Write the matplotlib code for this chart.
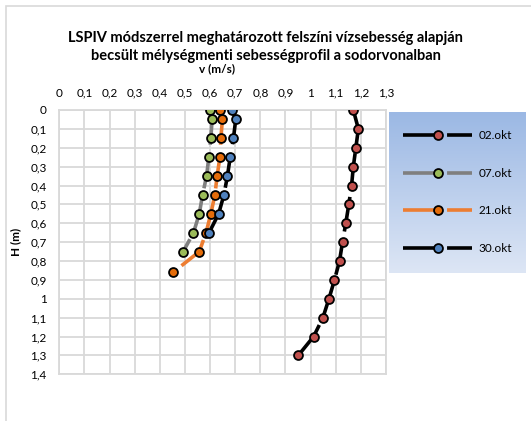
import numpy as np
import matplotlib
matplotlib.use("Agg")
from matplotlib import pyplot as plt
from matplotlib.patches import Rectangle

# depth values (m)
depth_02 = [0, 0.1, 0.2, 0.3, 0.4, 0.5, 0.6, 0.7, 0.8, 0.9, 1.0, 1.1, 1.2, 1.3]
depth_07 = [0, 0.05, 0.15, 0.25, 0.35, 0.45, 0.55, 0.65, 0.75]
depth_21 = [0, 0.05, 0.15, 0.25, 0.35, 0.45, 0.55, 0.65, 0.75, 0.86]
depth_30 = [0, 0.05, 0.15, 0.25, 0.35, 0.45, 0.55, 0.65]

# velocities (m/s)
v_02 = [1.17, 1.19, 1.18, 1.17, 1.163, 1.152, 1.14, 1.127, 1.115, 1.095, 1.073, 1.049, 1.012, 0.951]
v_07 = [0.60, 0.608, 0.603, 0.595, 0.586, 0.570, 0.557, 0.534, 0.493]
v_21 = [0.64, 0.649, 0.643, 0.639, 0.628, 0.619, 0.603, 0.584, 0.557, 0.453]
v_30 = [0.689, 0.702, 0.693, 0.680, 0.669, 0.655, 0.634, 0.596]

labels = ["02.okt", "07.okt", "21.okt", "30.okt"]
x_ticks = [0, 0.1, 0.2, 0.3, 0.4, 0.5, 0.6, 0.7, 0.8, 0.9, 1.0, 1.1, 1.2, 1.3]
x_tick_labels = ["0", "0,1", "0,2", "0,3", "0,4", "0,5", "0,6", "0,7", "0,8", "0,9", "1", "1,1", "1,2", "1,3"]
y_ticks = [0, 0.1, 0.2, 0.3, 0.4, 0.5, 0.6, 0.7, 0.8, 0.9, 1.0, 1.1, 1.2, 1.3, 1.4]
y_tick_labels = ["0", "0,1", "0,2", "0,3", "0,4", "0,5", "0,6", "0,7", "0,8", "0,9", "1", "1,1", "1,2", "1,3", "1,4"]

plt.rcParams['font.family'] = ['Lato', 'DejaVu Sans']

W, H = 531, 421
fig = plt.figure(figsize=(W / 100, H / 100), dpi=100)

# outer chart border (right and bottom run off the picture)
fig.patches.append(Rectangle((5.5 / W, -0.1), 1.2, 1 - 5.5 / H + 0.1,
                             transform=fig.transFigure, fill=False,
                             edgecolor='#d9d9d9', lw=1.2))

left, right, top, bottom = 59.3, 386, 110, 374.3
ax = fig.add_axes([left / W, 1 - bottom / H, (right - left) / W, (bottom - top) / H])

series = [
    (v_02, depth_02, 'black', '#c0504d'),
    (v_07, depth_07, '#7f7f7f', '#9bbb59'),
    (v_21, depth_21, '#ed7d31', '#e46c0a'),
    (v_30, depth_30, 'black', '#4f81bd'),
]
handles = []
for (xv, yv, lc, mc), lab in zip(series, labels):
    h, = ax.plot(xv, yv, color=lc, lw=2.6, linestyle=(0, (9.7, 2.5)),
                 marker='o', markersize=6.4, markerfacecolor=mc,
                 markeredgecolor='black', markeredgewidth=1.3, label=lab,
                 dash_capstyle='butt', zorder=3)
    handles.append(h)

ax.set_xlim(0, 1.3)
ax.set_ylim(1.4, 0)
ax.set_xticks(x_ticks)
ax.set_xticklabels(x_tick_labels)
ax.set_yticks(y_ticks)
ax.set_yticklabels(y_tick_labels)
ax.xaxis.tick_top()
ax.tick_params(axis='both', length=0, labelsize=8.5, colors='black')
ax.tick_params(axis='x', pad=8)
ax.tick_params(axis='y', pad=9)
ax.grid(True, color='#d9d9d9', lw=1.3)
ax.set_axisbelow(True)
for s in ax.spines.values():
    s.set_color('#d9d9d9')
    s.set_linewidth(1.3)

ax.set_xlabel("v (m/s)", fontsize=8.5, fontweight='bold')
ax.xaxis.set_label_position('top')
ax.xaxis.set_label_coords((217 - left) / (right - left), (bottom - 71.7) / (bottom - top))
ax.set_ylabel("H (m)", fontsize=8.5, fontweight='bold')
ax.yaxis.set_label_coords((21 - left) / (right - left), 0.5)

fig.text(0.5, 1 - 47.3 / H,
         "LSPIV módszerrel meghatározott felszíni vízsebesség alapján\n"
         "becsült mélységmenti sebességprofil a sodorvonalban",
         ha='center', va='center', fontsize=10.5, fontweight='bold', linespacing=1.35)

# legend box with blue gradient (darker at the top)
lx0, lx1, ly0, ly1 = 389, 525.7, 111.7, 272.7
lax = fig.add_axes([lx0 / W, 1 - ly1 / H, (lx1 - lx0) / W, (ly1 - ly0) / H])
top_c = np.array([155, 184, 228]) / 255
bot_c = np.array([221, 230, 245]) / 255
t = np.linspace(0, 1, 200)[:, None]
grad = (top_c[None, :] * (1 - t) + bot_c[None, :] * t)[:, None, :]
lax.imshow(grad, aspect='auto', extent=[0, 1, 0, 1], origin='upper')
lax.set_xlim(0, 1)
lax.set_ylim(0, 1)
lax.axis('off')
lax.legend(handles, labels, loc='center', frameon=False, fontsize=8.5,
           handlelength=5.9, handletextpad=0.5, labelspacing=2.25,
           borderpad=0)

fig.savefig("out.png", dpi=100)
